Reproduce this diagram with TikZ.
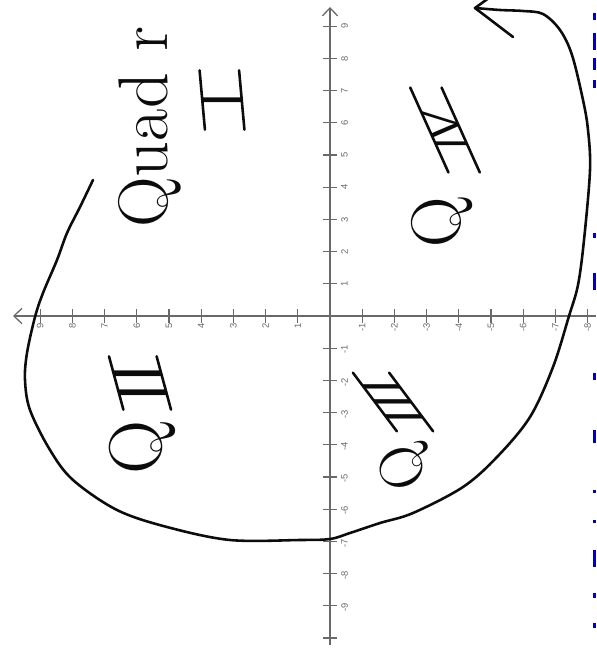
\documentclass[tikz,border=0pt]{standalone}
\usepackage{fontspec}
\usepackage{xcolor}
\usepackage{tikz}
\usetikzlibrary{arrows.meta}
\newfontfamily\axisfont{Liberation Sans}
\definecolor{axisgray}{RGB}{105,105,105}
\definecolor{inkblack}{RGB}{12,12,12}
\definecolor{edgeblue}{RGB}{0,0,190}
\tikzset{
  axis/.style={axisgray, line width=1.1pt},
  tick/.style={axisgray, line width=0.9pt},
  ticklabel/.style={font=\axisfont\fontsize{8}{8}\selectfont, text=axisgray,
    inner sep=0pt, rotate=90},
  ink/.style={inkblack, line width=2.2pt, line cap=round, line join=round},
  qletter/.style={text=inkblack, inner sep=0pt},
  numeral/.style={text=inkblack, inner xsep=1pt, inner ysep=0pt, rotate=90},
  barext/.style={ink, shorten <=-#1, shorten >=-#1}
}

\begin{document}
\begin{tikzpicture}[x=0.03cm, y=-0.03cm]
  \useasboundingbox (0,0) rectangle (596,656);
  \clip (0,0) rectangle (596,656);

  % Axes
  \draw[axis, -{Straight Barb[length=6.8pt, width=13pt]}] (596,316) -- (13,316);
  \draw[axis, -{Straight Barb[length=6.8pt, width=13pt]}] (330,645) -- (330,7);

  % Ticks and numbers
  \foreach \k in {1,...,9} {
    \draw[tick] (330-32.2*\k,309) -- (330-32.2*\k,323);
    \node[ticklabel, anchor=east] (hp\k) at (330-32.2*\k,323) {\k};
    \draw[tick] (323,316-32.2*\k) -- (337,316-32.2*\k);
    \node[ticklabel, anchor=north] (vp\k) at (341,316-32.2*\k) {\k};
    \draw[tick] (323,316+32.2*\k) -- (337,316+32.2*\k);
    \node[ticklabel, anchor=north] (vn\k) at (341,316+32.2*\k) {\llap{-}\k};
  }
  \foreach \k in {1,...,8} {
    \draw[tick] (330+32.2*\k,309) -- (330+32.2*\k,323);
    \node[ticklabel, anchor=east] (hn\k) at (330+32.2*\k,323) {\llap{-}\k};
  }
  \draw[tick] (323,638) -- (337,638);

  % Quadrant labels
  \node[qletter, rotate=90, anchor=base west, font=\fontsize{60}{60}\selectfont]
    (quad) at (167,228) {Quad r};
  \node[numeral, yslant=0.09, font=\sffamily\fontsize{48}{48}\selectfont] (n1) at (222,100) {I};
  \node[qletter, rotate=92, font=\fontsize{64}{64}\selectfont] (q2) at (143,447) {Q};
  \node[numeral, yslant=0.27, font=\sffamily\fontsize{58}{58}\selectfont] (n2) at (140,383) {II};
  \node[qletter, rotate=110, font=\fontsize{52}{52}\selectfont] (q3) at (407,466) {Q};
  \node[numeral, yslant=0.75, font=\sffamily\fontsize{44}{44}\selectfont] (n3) at (393,402) {III};
  \node[qletter, rotate=95, font=\fontsize{60}{60}\selectfont] (q4) at (443,222) {Q};
  \node[numeral, yslant=0.45, font=\sffamily\fontsize{38}{38}\selectfont] (n4) at (445,130) {IV};
  \foreach \n/\e in {n1/18pt, n2/6pt, n3/7pt, n4/20pt} {
    \draw[barext=\e] (\n.north west) -- (\n.north east);
    \draw[barext=\e] (\n.south west) -- (\n.south east);
  }

  % Hand-drawn loop round the quadrants
  \draw[ink] plot[smooth, tension=0.55] coordinates {(93,180) (80,207) (67,233)
    (57,260) (43,293) (35,317) (27,353) (25,380) (30,410) (50,450) (73,480)
    (117,510) (167,527) (230,540) (300,540) (330,539) (350,533) (380,523)
    (413,513) (463,487) (497,457) (530,417) (553,367) (569,316) (578,285)
    (584,240) (590,170) (588,130) (583,100) (572,55) (560,30) (543,14)
    (523,11) (500,10) (475,8)};
  \draw[ink] (513,37) -- (475,8) -- (493,-5);

  % Cut-off text at the right edge
  \foreach \a/\b in {13/20, 33/50, 58/70, 80/88, 233/238, 273/290, 373/380,
    430/443, 490/493, 520/523, 550/567, 593/598, 623/628}
    \fill[edgeblue] (593,\a) rectangle (596,\b);
\end{tikzpicture}
\end{document}
